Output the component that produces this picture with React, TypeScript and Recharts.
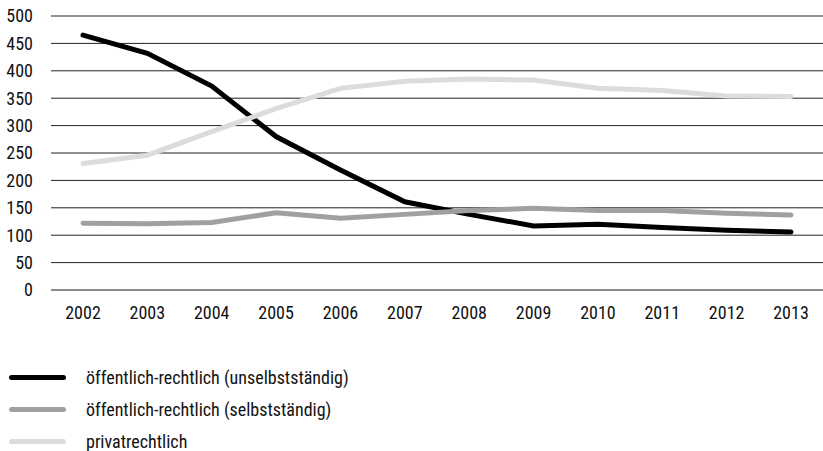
import React from 'react'
import { LineChart, Line, XAxis, YAxis, CartesianGrid } from 'recharts'

const years = ['2002', '2003', '2004', '2005', '2006', '2007', '2008', '2009', '2010', '2011', '2012', '2013']
const unselbststaendig = [465, 432, 372, 280, 219, 161, 138, 117, 120, 114, 109, 106]
const selbststaendig = [122, 121, 123, 141, 131, 138, 145, 149, 145, 145, 140, 137]
const privatrechtlich = [231, 246, 289, 331, 368, 381, 385, 383, 368, 364, 354, 353]
const yTicks = [0, 50, 100, 150, 200, 250, 300, 350, 400, 450, 500]

const series = [
  { key: 'unselbst', name: 'öffentlich-rechtlich (unselbstständig)', color: '#000000' },
  { key: 'selbst', name: 'öffentlich-rechtlich (selbstständig)', color: '#a0a0a0' },
  { key: 'privat', name: 'privatrechtlich', color: '#dcdcdc' },
]

const data = years.map((y, i) => ({
  year: y,
  unselbst: unselbststaendig[i],
  selbst: selbststaendig[i],
  privat: privatrechtlich[i],
}))

const font = '"Liberation Sans Narrow", "Roboto Condensed", "Liberation Sans", sans-serif'

function LegendBox() {
  return (
    <div style={{ position: 'absolute', left: 0, top: 361, fontFamily: font, fontSize: 18, color: '#111' }}>
      {series.map((s) => (
        <div key={s.key} style={{ display: 'flex', alignItems: 'center', height: 32 }}>
          <div style={{ width: 57, height: 5, borderRadius: 3, background: s.color, marginLeft: 9, marginRight: 20 }} />
          <span>{s.name}</span>
        </div>
      ))}
    </div>
  )
}

export default function App() {
  return (
    <div style={{ position: 'absolute', left: 0, top: 0, width: 823, height: 451, background: '#fff' }}>
      <LineChart width={823} height={330} data={data} margin={{ top: 16, right: 0, bottom: 0, left: 0 }}>
        <CartesianGrid vertical={false} stroke="#222" strokeWidth={1} />
        <XAxis
          dataKey="year"
          padding={{ left: 32, right: 32 }}
          axisLine={{ stroke: '#888' }}
          tickLine={false}
          tickSize={0}
          tickMargin={16}
          interval={0}
          height={40}
          tick={{ fill: '#111', fontSize: 18, fontFamily: font }}
        />
        <YAxis
          domain={[0, 500]}
          ticks={yTicks}
          interval={0}
          axisLine={false}
          tickLine={false}
          tickSize={0}
          tickMargin={18}
          width={51}
          tick={{ fill: '#111', fontSize: 18, fontFamily: font }}
        />
        {series.map((s) => (
          <Line
            key={s.key}
            type="linear"
            dataKey={s.key}
            name={s.name}
            stroke={s.color}
            strokeWidth={5}
            strokeLinecap="round"
            dot={false}
            activeDot={false}
            isAnimationActive={false}
          />
        ))}
      </LineChart>
      <LegendBox />
    </div>
  )
}
